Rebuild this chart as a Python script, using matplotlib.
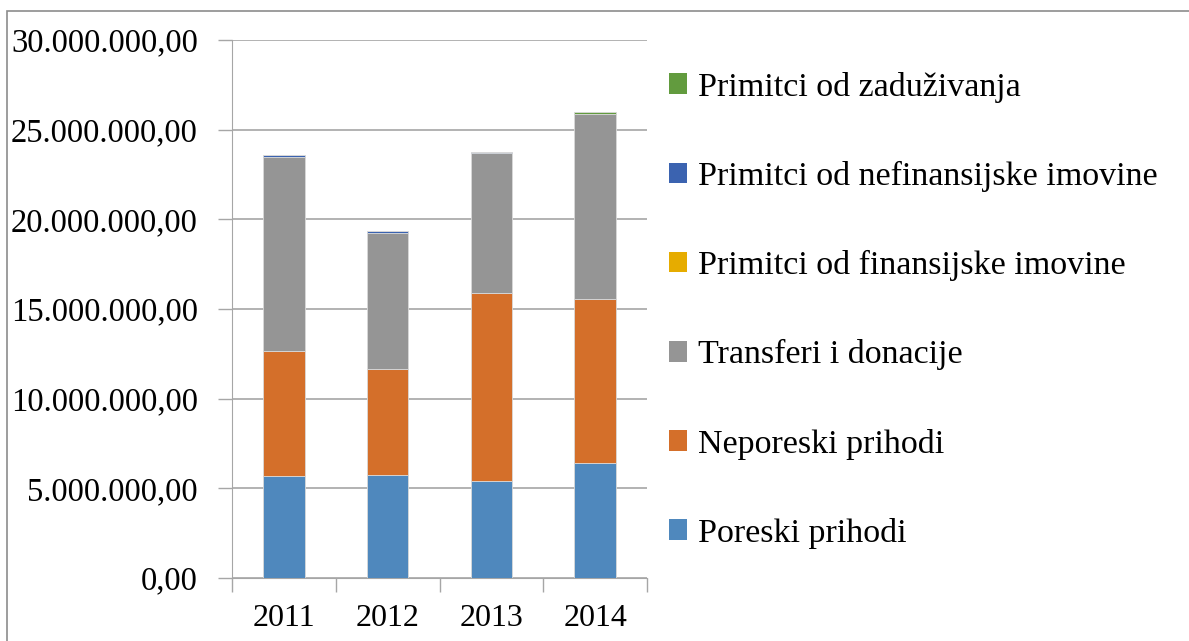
import numpy as np
import matplotlib
matplotlib.use("Agg")
import matplotlib.pyplot as plt
from matplotlib.patches import Rectangle, Patch

plt.rcParams['font.family'] = ['Liberation Serif', 'DejaVu Serif']

years = ['2011', '2012', '2013', '2014']
series = ['Poreski prihodi', 'Neporeski prihodi', 'Transferi i donacije',
          'Primitci od finansijske imovine', 'Primitci od nefinansijske imovine',
          'Primitci od zaduživanja']
poreski = [5690000, 5740000, 5410000, 6410000]
neporeski = [6970000, 5920000, 10490000, 9150000]
transferi = [10820000, 7580000, 7800000, 10320000]
finansijske = [0, 0, 0, 0]
nefinansijske = [110000, 110000, 60000, 0]
zaduzivanja = [0, 0, 0, 90000]
colors = ['#4F88BD', '#D46F2A', '#959595', '#E6AC00', '#3B63B0', '#629B3E']

fig = plt.figure(figsize=(11.89, 6.41), dpi=100)
ax = fig.add_axes([232 / 1189, 1 - 578 / 641, (647 - 232) / 1189, (578 - 40) / 641])

x = np.arange(len(years))
bottom = np.zeros(len(years))
for vals, c in zip([poreski, neporeski, transferi, finansijske, nefinansijske, zaduzivanja], colors):
    ax.bar(x, vals, 0.4, bottom=bottom, color=c, edgecolor='#d9d9d9', linewidth=0.6, zorder=3)
    bottom += np.array(vals)

ax.set_ylim(0, 30000000)
ax.set_xlim(-0.5, 3.5)
yt = np.arange(0, 30000001, 5000000)
ax.set_yticks(yt)
ax.set_yticklabels(['{:,.2f}'.format(v).replace(',', ' ').replace('.', ',').replace(' ', '.')
                    for v in yt], fontsize=23.5)
ax.set_xticks(x)
ax.set_xticklabels(years, fontsize=23)
ax.set_xticks(np.arange(-0.5, 4, 1), minor=True)
ax.tick_params(axis='x', which='major', length=0, pad=19)
ax.tick_params(axis='x', which='minor', length=10, color='#a6a6a6', width=1)
ax.tick_params(axis='y', length=10, color='#a6a6a6', width=1, pad=14.5)
ax.yaxis.grid(True, color='#a6a6a6', linewidth=1.2, zorder=0)
for s in ['top', 'right']:
    ax.spines[s].set_visible(False)
ax.spines['left'].set_color('#a6a6a6')
ax.spines['bottom'].set_color('#a6a6a6')

handles = [Patch(facecolor=c, edgecolor='none') for c in colors]
leg = fig.legend(handles[::-1], series[::-1], loc='upper left',
                 bbox_to_anchor=(655 / 1189, 1 - 58 / 641), frameon=False,
                 fontsize=24.5, handlelength=0.55, handleheight=0.55,
                 handletextpad=0.32, labelspacing=1.71, borderaxespad=0)

fig.patches.append(Rectangle((7 / 1189, -0.1), 1.2, 1 - 11 / 641 + 0.1,
                             transform=fig.transFigure, fill=False,
                             edgecolor='#8c8c8c', linewidth=1.2))

fig.savefig('out.png', dpi=100)
